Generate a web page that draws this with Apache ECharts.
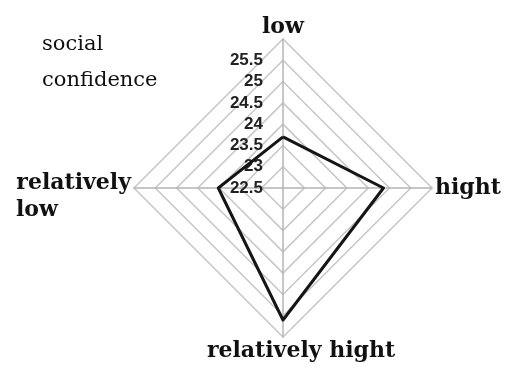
<!DOCTYPE html>
<html lang="en">

<head>
  <meta charset='utf-8'>
  <title>social confidence radar</title>
  <meta name='viewport' content='width=device-width, initial-scale=1'>
</head>

<body style="margin:0;background:#fff;">
  <div id="myCharts" style="width: 505px;height:374px;"></div>
  <script src="https://cdn.jsdelivr.net/npm/echarts@6/dist/echarts.min.js"></script>
  <script type="text/javascript">
    // 指标（从顶部开始逆时针）
    var indicatorNames = ['low', 'relatively low', 'relatively hight', 'hight'];
    // 数据
    var seriesData = [23.7, 24.02, 25.6, 24.86];
    // 刻度范围
    var axisMin = 22.5;
    var axisMax = 26;
    var splitCount = 7;
    var tickLabels = ['22.5', '23', '23.5', '24', '24.5', '25', '25.5'];

    var myChart = echarts.init(document.getElementById('myCharts'));

    var nameFont = {
      fontFamily: 'DejaVu Serif',
      fontWeight: 'bold',
      fontSize: 22,
      color: '#111'
    };

    var indicators = indicatorNames.map(function (name, i) {
      var item = { name: name, min: axisMin, max: axisMax };
      if (i === 0) {
        // 只在顶部轴显示刻度标签
        item.axisLabel = {
          show: true,
          margin: 20,
          fontFamily: 'Liberation Sans',
          fontWeight: 'bold',
          fontSize: 17,
          color: '#222',
          formatter: function (v) {
            var s = String(+v.toFixed(1));
            return tickLabels.indexOf(s) >= 0 ? s : '';
          }
        };
      }
      return item;
    });

    var chartOption = {
      animation: false,
      title: {
        text: 'social\nconfidence',
        left: 37,
        top: 22,
        textStyle: {
          fontFamily: 'DejaVu Serif',
          fontWeight: 'normal',
          fontSize: 21,
          lineHeight: 36,
          color: '#111'
        }
      },
      radar: {
        center: [283, 188],
        radius: 149,
        startAngle: 90,
        shape: 'polygon',
        splitNumber: splitCount,
        indicator: indicators,
        nameGap: 3,
        axisName: {
          formatter: function (name) {
            if (name === 'relatively low') {
              return '{s|}\n{a|relatively}\n{b|low}';
            }
            if (name === 'relatively hight') {
              return '{c|' + name + '}';
            }
            if (name === 'low') {
              return '{t|' + name + '}';
            }
            return '{a|' + name + '}';
          },
          rich: {
            s: { fontSize: 1, lineHeight: 18 },
            a: Object.assign({ lineHeight: 27 }, nameFont),
            b: Object.assign({ lineHeight: 27, width: 115, align: 'left' }, nameFont),
            c: Object.assign({ lineHeight: 22, padding: [0, 0, 0, 36] }, nameFont),
            t: Object.assign({ lineHeight: 18 }, nameFont)
          }
        },
        axisLine: { lineStyle: { color: '#b4b4b4', width: 1.5 } },
        axisTick: { show: false },
        axisLabel: { show: false },
        splitLine: { lineStyle: { color: '#c6c6c6', width: 1.5 } },
        splitArea: { show: false }
      },
      series: [
        {
          type: 'radar',
          symbol: 'none',
          lineStyle: { color: '#151515', width: 3 },
          areaStyle: null,
          data: [{ value: seriesData, name: 'social confidence' }]
        }
      ]
    };

    myChart.setOption(chartOption);
  </script>
</body>

</html>
